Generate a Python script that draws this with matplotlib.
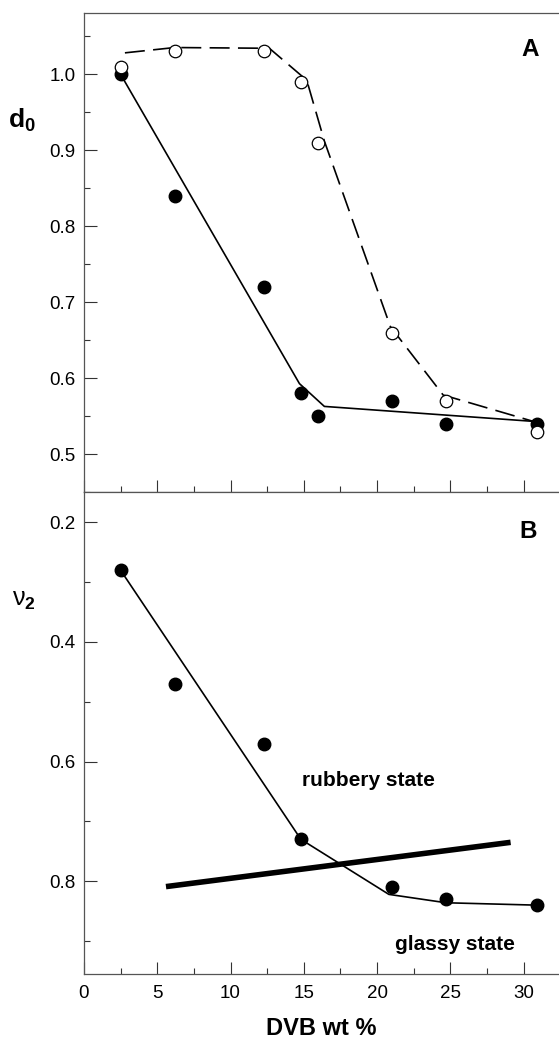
import numpy as np
import matplotlib.pyplot as plt
from matplotlib.ticker import MultipleLocator

plt.rcParams['font.family'] = ['Liberation Sans', 'DejaVu Sans']
plt.rcParams['mathtext.fontset'] = 'custom'
plt.rcParams['mathtext.rm'] = 'Liberation Sans'
plt.rcParams['mathtext.it'] = 'Liberation Sans:italic'
plt.rcParams['mathtext.bf'] = 'Liberation Sans:bold'

# DVB content (wt %)
dvb = [2.5, 6.2, 12.3, 14.8, 16.0, 21.0, 24.7, 30.9]

# panel A: d0 for the two series
d0_filled = [1.00, 0.84, 0.72, 0.58, 0.55, 0.57, 0.54, 0.54]
d0_open = [1.01, 1.03, 1.03, 0.99, 0.91, 0.66, 0.57, 0.53]
# guide curves through the points
fit_filled_x = [2.5, 14.7, 16.4, 30.9]
fit_filled_y = [1.00, 0.593, 0.563, 0.543]
fit_open_x = [2.8, 6.2, 12.65, 15.2, 16.4, 20.9, 24.5, 30.7]
fit_open_y = [1.028, 1.035, 1.034, 0.992, 0.912, 0.668, 0.578, 0.543]

# panel B: polymer volume fraction v2
dvb_b = [2.5, 6.2, 12.3, 14.8, 21.0, 24.7, 30.9]
v2 = [0.28, 0.47, 0.57, 0.73, 0.81, 0.83, 0.84]
fit_v2_x = [2.5, 14.8, 20.8, 24.7, 30.9]
fit_v2_y = [0.28, 0.73, 0.822, 0.836, 0.840]
# rubbery / glassy boundary
border_x = [5.6, 29.1]
border_y = [0.809, 0.735]

fig = plt.figure(figsize=(5.59, 10.40), dpi=100)
axA = fig.add_axes([0.150, 0.5266, 0.85, 0.4606])
axB = fig.add_axes([0.150, 0.0635, 0.85, 0.4631])

spine_col = '#555555'
for ax in (axA, axB):
    ax.set_xlim(0, 32.4)
    for s in ('top', 'bottom', 'left'):
        ax.spines[s].set_color(spine_col)
        ax.spines[s].set_linewidth(0.9)
    ax.spines['right'].set_visible(False)
    ax.xaxis.set_major_locator(MultipleLocator(5))
    ax.xaxis.set_minor_locator(MultipleLocator(2.5))
    ax.tick_params(which='both', direction='in', top=False, right=False,
                   color='#333333', width=0.8, labelsize=13.5)
    ax.tick_params(which='major', length=9)
    ax.tick_params(which='minor', length=4.5)
    ax.tick_params(axis='y', pad=6)

# --- panel A ---
axA.plot(fit_filled_x, fit_filled_y, color='black', lw=1.2)
axA.plot(fit_open_x, fit_open_y, color='black', lw=1.2, dashes=(12, 5))
axA.plot(dvb, d0_filled, 'o', color='black', ms=9)
axA.plot(dvb, d0_open, 'o', mfc='white', mec='black', mew=0.9, ms=9)
axA.set_ylim(0.45, 1.08)
axA.yaxis.set_major_locator(MultipleLocator(0.1))
axA.yaxis.set_minor_locator(MultipleLocator(0.05))
axA.set_yticks([0.5, 0.6, 0.7, 0.8, 0.9, 1.0])
axA.tick_params(axis='x', labelbottom=False)
axA.text(30.4, 1.032, 'A', fontsize=17.5, fontweight='bold', ha='center', va='center')
fig.text(0.039, 1 - 120 / 1040, r'$\mathbf{d_0}$', fontsize=19, ha='center', va='center')

# --- panel B ---
axB.plot(fit_v2_x, fit_v2_y, color='black', lw=1.2)
axB.plot(border_x, border_y, color='black', lw=4, solid_capstyle='butt')
axB.plot(dvb_b, v2, 'o', color='black', ms=9)
axB.set_ylim(0.955, 0.15)
axB.set_yticks([0.2, 0.4, 0.6, 0.8])
axB.yaxis.set_minor_locator(MultipleLocator(0.1))
axB.tick_params(axis='x', pad=8)
axB.text(30.3, 0.215, 'B', fontsize=17.5, fontweight='bold', ha='center', va='center')
axB.text(19.4, 0.632, 'rubbery state', fontsize=15, fontweight='bold', ha='center', va='center')
axB.text(25.3, 0.905, 'glassy state', fontsize=15, fontweight='bold', ha='center', va='center')
fig.text(0.043, 1 - 600 / 1040, r'$\mathrm{\nu}_\mathbf{2}$', fontsize=18, ha='center', va='center')
axB.set_xlabel('DVB wt %', fontsize=17, fontweight='bold', labelpad=11)

fig.savefig('out.png', dpi=100)
